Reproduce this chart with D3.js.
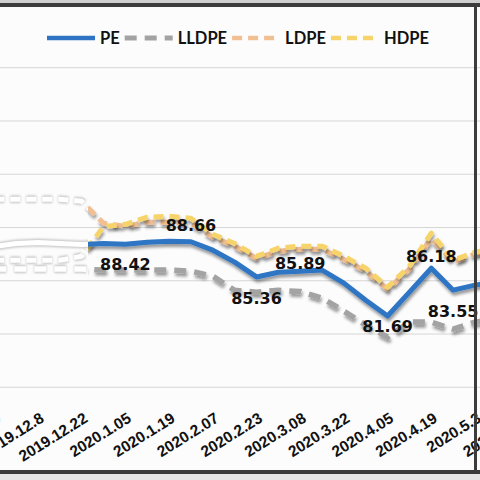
<!DOCTYPE html>
<html lang="zh">
<head>
<meta charset="UTF-8">
<title>PE price index</title>
<script src="https://d3js.org/d3.v7.min.js"></script>
<style>
    html, body { margin: 0; padding: 0; background: #ffffff; }
    svg { display: block; }
    .xlab { font: bold 15.5px "Liberation Sans", Arial, sans-serif; fill: #111; }
    .leg { font: bold 16.5px Lato, sans-serif; fill: #111; }
    .dlab { font: bold 16px "DejaVu Sans", sans-serif; fill: #111; text-anchor: middle; }
</style>
</head>
<body>
<div id="chart"></div>
<script>
// weekly categories, every second one is labelled
const categories = ["2019.11.24", "2019.12.1", "2019.12.8", "2019.12.15", "2019.12.22", "2019.12.29",
    "2020.1.05", "2020.1.12", "2020.1.19", "2020.1.26", "2020.2.07", "2020.2.16", "2020.2.23",
    "2020.3.01", "2020.3.08", "2020.3.15", "2020.3.22", "2020.3.29", "2020.4.05", "2020.4.12",
    "2020.4.19", "2020.4.26", "2020.5.3", "2020.5.10", "2020.5.17"];

const pe    = [88.2, 88.5, 88.6, 88.5, 88.4, 88.5, 88.42, 88.62, 88.72, 88.66, 87.87, 86.75, 85.36,
               85.8, 85.89, 86.0, 84.78, 83.18, 81.69, 83.93, 86.18, 84.12, 84.59, 84.9, 85.1];
const lldpe = [86.1, 86.1, 86.1, 86.1, 86.1, 86.0, 86.0, 86.0, 86.0, 85.9, 85.43, 84.1, 83.93,
               84.1, 84.0, 83.37, 82.15, 80.84, 79.71, 81.12, 81.12, 80.46, 81.12, 81.4, 81.6];
const ldpe  = [92.65, 92.65, 92.65, 92.65, 92.46, 90.4, 90.12, 90.5, 90.5, 90.4, 89.1, 88.25, 87.1,
               87.78, 87.97, 87.97, 87.0, 85.9, 84.2, 86.1, 89.0, 86.75, 87.5, 87.8, 88.0];
const hdpe  = [86.93, 86.93, 86.93, 86.93, 87.3, 90.1, 90.3, 90.97, 91.06, 90.87, 89.37, 88.5, 87.3,
               88.06, 88.25, 88.25, 87.3, 86.18, 84.4, 86.37, 89.47, 86.93, 87.68, 88.0, 88.2];

// data labels on the PE line
const labelIdx  = [6, 9, 12, 14, 18, 20, 21];
const labelText = ["88.42", "88.66", "85.36", "85.89", "81.69", "86.18", "83.55"];

const gridValues = [75, 80, 85, 90, 95, 100, 105];

// layout
const W = 480, H = 480;
const labelDy = [20, -17, 21, -8, 10, -12, 21];
const fadeEdge = 88;   // left part of the picture is washed out

const series = [
    { name: "LLDPE", values: lldpe, color: "#a3a3a3", width: 5.5, dash: "12,8" },
    { name: "LDPE",  values: ldpe,  color: "#f2bf92", width: 5,   dash: "10,6" },
    { name: "HDPE",  values: hdpe,  color: "#f6d46a", width: 5,   dash: "10,6" },
    { name: "PE",    values: pe,    color: "#2f74c4", width: 5,   dash: null }
];

const x = d3.scalePoint().domain(categories).range([-5.7, 38 + 22 * 21.85]);
const y = d3.scaleLinear().domain([75, 105]).range([387.3, 67.7]);

const svg = d3.select("#chart").append("svg")
    .attr("width", W).attr("height", H);

const defs = svg.append("defs");
const sh = defs.append("filter").attr("id", "shadow")
    .attr("x", "-10%").attr("y", "-30%").attr("width", "120%").attr("height", "160%");
sh.append("feDropShadow").attr("dx", 1).attr("dy", 3).attr("stdDeviation", 1.6)
    .attr("flood-color", "#000").attr("flood-opacity", 0.4);
const soft = defs.append("filter").attr("id", "soft")
    .attr("x", "-10%").attr("y", "-30%").attr("width", "120%").attr("height", "160%");
soft.append("feGaussianBlur").attr("stdDeviation", 0.8);

defs.append("clipPath").attr("id", "clipRight").append("rect")
    .attr("x", fadeEdge).attr("y", 0).attr("width", W).attr("height", H);
defs.append("clipPath").attr("id", "clipLeft").append("rect")
    .attr("x", 0).attr("y", 0).attr("width", fadeEdge).attr("height", H);

// background
svg.append("rect").attr("width", W).attr("height", H).attr("fill", "#fcfcfd");

// gridlines
svg.append("g").selectAll("line")
    .data(gridValues)
    .join("line")
    .attr("x1", 0).attr("x2", W)
    .attr("y1", d => y(d)).attr("y2", d => y(d))
    .attr("stroke", "#d6d6d6").attr("stroke-width", 1);

const line = d3.line()
    .x((d, i) => x(categories[i]))
    .y(d => y(d));

// washed out part on the left: white strokes with a grey rim
const left = svg.append("g").attr("clip-path", "url(#clipLeft)");
series.forEach(s => {
    left.append("path")
        .attr("d", line(s.values))
        .attr("fill", "none")
        .attr("stroke", "#c4c4c4")
        .attr("stroke-width", s.width + 2.5)
        .attr("stroke-dasharray", s.dash)
        .attr("stroke-linejoin", "round")
        .attr("filter", "url(#soft)");
    left.append("path")
        .attr("d", line(s.values))
        .attr("fill", "none")
        .attr("stroke", "#ffffff")
        .attr("stroke-width", s.width)
        .attr("stroke-dasharray", s.dash)
        .attr("stroke-linejoin", "round");
});

// coloured part
const right = svg.append("g").attr("clip-path", "url(#clipRight)");
series.forEach(s => {
    right.append("path")
        .attr("d", line(s.values))
        .attr("fill", "none")
        .attr("stroke", s.color)
        .attr("stroke-width", s.width)
        .attr("stroke-dasharray", s.dash)
        .attr("stroke-linejoin", "round")
        .attr("filter", "url(#shadow)");
});

// data labels
svg.append("g").selectAll("text")
    .data(labelIdx)
    .join("text")
    .attr("class", "dlab")
    .attr("x", d => x(categories[d]))
    .attr("y", (d, i) => y(pe[d]) + labelDy[i] + 6)
    .text((d, i) => labelText[i]);

// x axis labels
svg.append("g").selectAll("text")
    .data(categories.filter((d, i) => i % 2 === 0))
    .join("text")
    .attr("class", "xlab")
    .attr("text-anchor", "end")
    .attr("transform", d => `translate(${x(d) + 7},421) rotate(-32)`)
    .text(d => d);

// legend
const legend = svg.append("g").attr("transform", "translate(47,38)");
const legendOrder = ["PE", "LLDPE", "LDPE", "HDPE"];
let lx = 0;
legendOrder.forEach(name => {
    const s = series.find(d => d.name === name);
    legend.append("line")
        .attr("x1", lx).attr("x2", lx + 48)
        .attr("y1", 0).attr("y2", 0)
        .attr("stroke", s.color)
        .attr("stroke-width", s.width - 0.5)
        .attr("stroke-dasharray", s.dash);
    const t = legend.append("text")
        .attr("class", "leg")
        .attr("x", lx + 53).attr("y", 6)
        .text(name);
    lx += 53 + t.node().getComputedTextLength() + 5;
});

// frame of the picture
svg.append("rect").attr("x", 0).attr("y", 0).attr("width", W).attr("height", 3).attr("fill", "#cfcfcf");
svg.append("rect").attr("x", 0).attr("y", 3).attr("width", W).attr("height", 4).attr("fill", "#3c3c3c");
svg.append("rect").attr("x", 474).attr("y", 3).attr("width", 3).attr("height", 472).attr("fill", "#3c3c3c");
svg.append("rect").attr("x", 0).attr("y", 470).attr("width", W).attr("height", 4).attr("fill", "#3c3c3c");
svg.append("rect").attr("x", 0).attr("y", 474).attr("width", W).attr("height", 6).attr("fill", "#e6e6e6");
</script>
</body>
</html>
